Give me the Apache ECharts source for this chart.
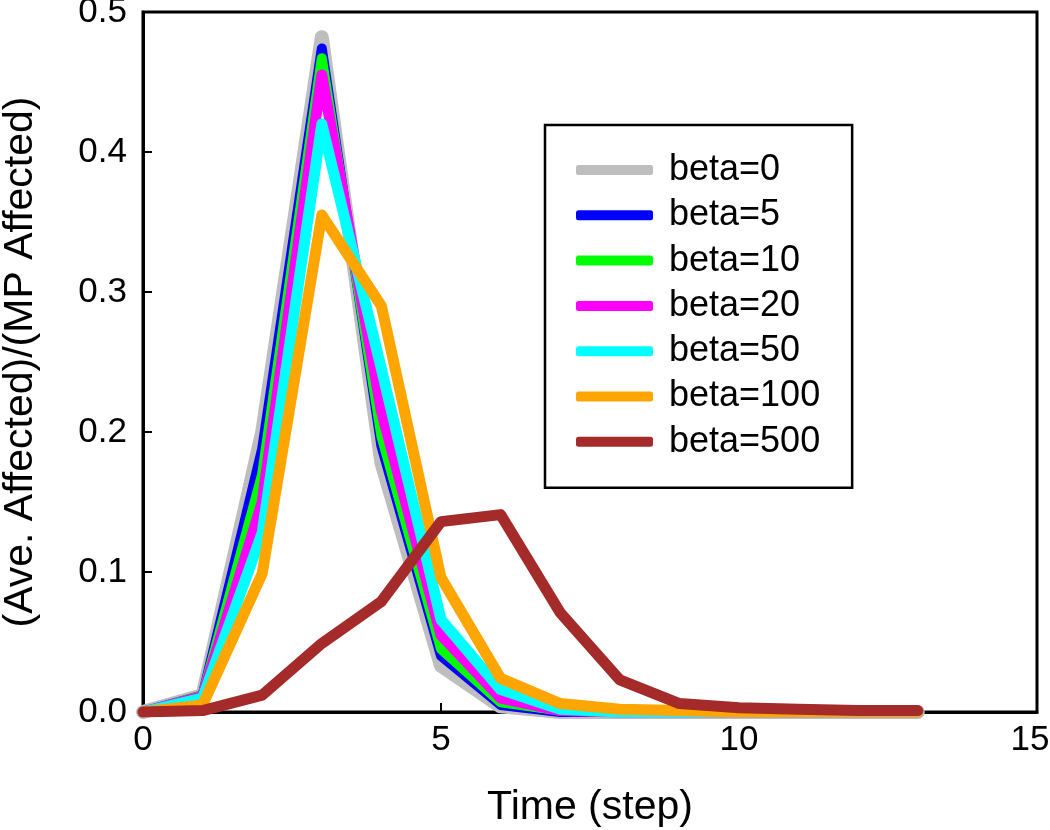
<!DOCTYPE html>
<html>
<head>
<meta charset="utf-8">
<script src="https://cdn.jsdelivr.net/npm/echarts@6/dist/echarts.min.js"></script>
<style>html,body{margin:0;padding:0;background:#fff;}#c{width:1050px;height:830px;}</style>
</head>
<body>
<div id="c"></div>
<script>
var steps = [0, 1, 2, 3, 4, 5, 6, 7, 8, 9, 10, 11, 12, 13];
var seriesNames = ['beta=0', 'beta=5', 'beta=10', 'beta=20', 'beta=50', 'beta=100', 'beta=500'];
var beta0   = [0, 0.012, 0.200, 0.482, 0.178, 0.033, 0.004, 0, 0, 0, 0, 0, 0, 0];
var beta5   = [0, 0.012, 0.188, 0.474, 0.190, 0.040, 0.005, 0, 0, 0, 0, 0, 0, 0];
var beta10  = [0, 0.012, 0.170, 0.467, 0.197, 0.045, 0.007, 0.001, 0, 0, 0, 0, 0, 0];
var beta20  = [0, 0.011, 0.150, 0.455, 0.215, 0.055, 0.010, 0.001, 0, 0, 0, 0, 0, 0];
var beta50  = [0, 0.010, 0.128, 0.420, 0.245, 0.066, 0.016, 0.002, 0, 0, 0, 0, 0, 0];
var beta100 = [0, 0.005, 0.099, 0.355, 0.290, 0.096, 0.024, 0.006, 0.002, 0.001, 0, 0, 0, 0];
var beta500 = [0, 0.001, 0.012, 0.049, 0.079, 0.136, 0.141, 0.071, 0.023, 0.006, 0.003, 0.002, 0.001, 0.001];
var xTicks = [0, 5, 10, 15];
var yTicks = [0.0, 0.1, 0.2, 0.3, 0.4, 0.5];

var allData = [beta0, beta5, beta10, beta20, beta50, beta100, beta500];
var colors = ['#bebebe', '#0000ff', '#00ff00', '#ff00ff', '#00ffff', '#ffa500', '#a52a2a'];
var widths = [14, 10, 10, 11, 11, 11, 11];
var FONT = 'Liberation Sans, Arial, Helvetica, sans-serif';

var series = allData.map(function (arr, i) {
  return {
    name: seriesNames[i],
    type: 'line',
    data: steps.map(function (s, k) { return [s, arr[k]]; }),
    showSymbol: false,
    symbol: 'none',
    color: colors[i],
    lineStyle: { color: colors[i], width: widths[i], cap: 'round', join: 'round' },
    z: 2 + i,
    animation: false
  };
});

var chart = echarts.init(document.getElementById('c'));
chart.setOption({
  backgroundColor: '#fff',
  animation: false,
  grid: {
    left: 143, top: 12, width: 894, height: 700,
    containLabel: false,
    outerBoundsMode: 'none',
    show: true, borderColor: '#000', borderWidth: 3, backgroundColor: 'transparent'
  },
  legend: {
    data: seriesNames,
    orient: 'vertical',
    left: 545, top: 125,
    padding: [27, 32, 28, 31],
    itemGap: 9.3,
    itemWidth: 77,
    itemHeight: 10,
    icon: 'roundRect',
    borderColor: '#000',
    borderWidth: 2.5,
    backgroundColor: '#fff',
    textStyle: { fontFamily: FONT, fontSize: 36, color: '#000', lineHeight: 36, padding: [0, 0, 0, 11] }
  },
  xAxis: {
    type: 'value',
    min: 0, max: 15, interval: 5,
    name: 'Time (step)',
    nameLocation: 'middle',
    nameGap: 75,
    nameTextStyle: { fontFamily: FONT, fontSize: 41, color: '#000' },
    axisLine: { show: true, lineStyle: { color: '#000', width: 3 } },
    axisTick: { show: true, inside: true, length: 9, lineStyle: { color: '#000', width: 2 } },
    axisLabel: {
      fontFamily: FONT, fontSize: 35, color: '#000', margin: 11,
      formatter: function (v) {
        if (xTicks.indexOf(v) < 0) return '';
        return v === xTicks[xTicks.length - 1] ? '{m|' + v + '}' : String(v);
      },
      rich: { m: { fontFamily: FONT, fontSize: 35, color: '#000', padding: [0, 14, 0, 0] } }
    },
    splitLine: { show: false }
  },
  yAxis: {
    type: 'value',
    min: 0, max: 0.5, interval: 0.1,
    name: '(Ave. Affected)/(MP Affected)',
    nameLocation: 'middle',
    nameGap: 102,
    nameTextStyle: { fontFamily: FONT, fontSize: 41, color: '#000' },
    axisLine: { show: true, lineStyle: { color: '#000', width: 3 } },
    axisTick: { show: true, inside: true, length: 9, lineStyle: { color: '#000', width: 2 } },
    axisLabel: {
      fontFamily: FONT, fontSize: 35, color: '#000', margin: 16,
      formatter: function (v) {
        for (var i = 0; i < yTicks.length; i++) { if (Math.abs(yTicks[i] - v) < 1e-9) return yTicks[i].toFixed(1); }
        return '';
      }
    },
    splitLine: { show: false }
  },
  series: series
});
</script>
</body>
</html>
